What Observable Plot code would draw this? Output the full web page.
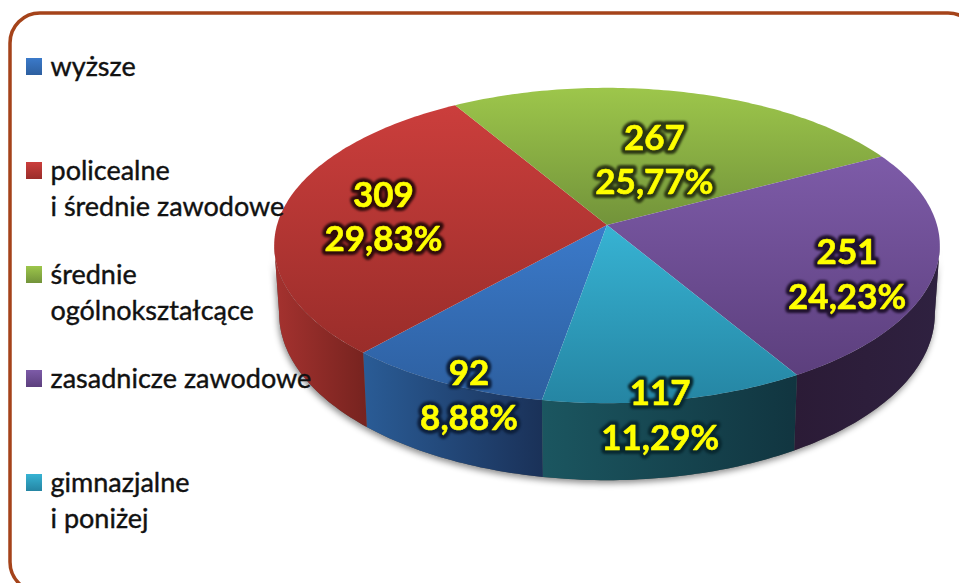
<!DOCTYPE html>
<html lang="pl">
<head>
<meta charset="utf-8">
<script src="https://cdn.jsdelivr.net/npm/d3@7"></script>
<script src="https://cdn.jsdelivr.net/npm/@observablehq/plot@0.6"></script>
<style>
html,body{margin:0;padding:0;background:#fff;overflow:hidden}
svg{display:block}
g[aria-description="sides"]{filter:drop-shadow(-1px 3px 3px rgba(0,0,0,.45))}
g[aria-description="halo"]{filter:blur(.9px)}
.blur{filter:blur(.35px)}
</style>
</head>
<body>
<div id="chart"></div>
<script>
// ---- data ----
const categories = ["wyższe", "policealne\ni średnie zawodowe", "średnie\nogólnokształcące", "zasadnicze zawodowe", "gimnazjalne\ni poniżej"];
const counts = [92, 309, 267, 251, 117];
const percents = [8.88, 29.83, 25.77, 24.23, 11.29];

// ---- styles ----
const topStops = [["#3b7aca", "#2d5f9f"], ["#cb3e3c", "#9a2d2a"], ["#9dc64b", "#72933a"], ["#7d5ba8", "#5c3f7d"], ["#37b3d3", "#2585a3"]];
const sideStops = [["#2a5c96", "#1a3158"], ["#a5322f", "#76231f"], ["#000", "#000"], ["#2b1b36", "#2f2140"], ["#1b5660", "#113540"]];
const haloColors = ["#0c1f3c", "#300c0c", "#2c3814", "#20122e", "#082830"];
const labelRadius = [1.03, 0.686, 0.47, 0.761, 1.066];
const labelTurn = [-5, -1, 3, 8, 3];
const fontFamily = "Lato, Carlito, sans-serif";

// ---- perspective projection of the unit disc ----
const cx = 607, cy = 225, A = 155, B = 330, k = 0.13, T = 67, bottomShrink = 0.985;
const rad = Math.PI / 180;
const startAngle = 9.9, silhouette = 82.5;
function project(phi, r = 1) {
  const X = -Math.sin(phi * rad) * r, Y = Math.cos(phi * rad) * r, w = 1 - k * Y;
  return {x: cx + B * X / w, y: cy + A * Y / w, w};
}
function projectBottom(phi) {
  const p = project(phi);
  return {x: cx + (p.x - cx) * bottomShrink, y: p.y + T / p.w};
}
const total = d3.sum(counts);
let acc = startAngle;
const slices = counts.map((v, i) => {
  const a0 = acc, a1 = acc + v / total * 360;
  acc = a1;
  return {i, a0, a1, mid: (a0 + a1) / 2};
});
const arcAngles = (a, b) => { const n = Math.max(2, Math.ceil(b - a)); return d3.range(n + 1).map(j => a + (b - a) * j / n); };
const fan = s => arcAngles(s.a0, s.a1).map(phi => { const p = project(phi); return {x1: p.x, y1: p.y, x2: cx, y2: cy, i: s.i}; });
function band(s) {
  for (const off of [0, 360]) {
    const a = Math.max(s.a0, off - silhouette), b = Math.min(s.a1, off + silhouette);
    if (b > a) return arcAngles(a, b).map(phi => { const p = project(phi), q = projectBottom(phi); return {x1: p.x, y1: p.y, x2: q.x, y2: q.y, i: s.i}; });
  }
  return null;
}
const labels = slices.map(s => {
  const p = project(s.mid + labelTurn[s.i], labelRadius[s.i]);
  return {x: p.x, y: p.y - 2.5, i: s.i, text: counts[s.i] + "\n" + percents[s.i].toFixed(2).replace(".", ",") + "%"};
});
const legend = categories.map((c, i) => ({c, i, yc: 66.5 + 104 * i}));

const area = (pts, fill, ariaDescription) => Plot.area(pts, {x1: "x1", y1: "y1", x2: "x2", y2: "y2", z: "i", fill, ariaDescription});
const labelStyle = {x: "x", y: "y", text: "text", fontSize: 35, fontWeight: 700, lineHeight: 1.28, fontFamily};

const chart = Plot.plot({
  width: 959, height: 583,
  margin: 0,
  style: {background: "#fff", fontFamily},
  x: {domain: [0, 959], range: [0, 959], axis: null},
  y: {domain: [0, 583], range: [0, 583], axis: null},
  marks: [
    Plot.rect([0], {x1: () => 10, x2: () => 978, y1: () => 13, y2: () => 592, rx: 30, fill: "#fff", stroke: "#a5431a", strokeWidth: 3.5}),
    area(slices.flatMap(s => band(s) || []), "#555", "sides"),
    ...slices.map(s => { const b = band(s); return b ? area(b, `url(#side${s.i})`, "side") : null; }),
    ...slices.map(s => area(fan(s), `url(#top${s.i})`, "slice")),
    Plot.text(labels, {...labelStyle, fill: d => haloColors[d.i], stroke: d => haloColors[d.i], strokeWidth: 8, strokeLinejoin: "round", ariaDescription: "halo"}),
    Plot.text(labels, {...labelStyle, fill: "#ffff00", stroke: "#ffff00", strokeWidth: 0.6}),
    ...legend.map(l => Plot.rect([l], {x1: () => 26, x2: () => 42, y1: d => d.yc - 8.5, y2: d => d.yc + 8.5, fill: `url(#top${l.i})`})),
    Plot.text(legend, {x: () => 50, y: d => d.yc - 17, text: "c", textAnchor: "start", lineAnchor: "top", fontSize: 27, lineHeight: 1.34, fill: "#111", stroke: "#111", strokeWidth: 0.4, fontFamily})
  ].filter(Boolean)
});

// linear gradients referenced by the marks
const defs = d3.select(chart).insert("defs", ":first-child");
const grad = (id, stops, vertical) => {
  const g = defs.append("linearGradient").attr("id", id).attr("x1", 0).attr("y1", 0).attr("x2", vertical ? 0 : 1).attr("y2", vertical ? 1 : 0);
  g.append("stop").attr("offset", 0).attr("stop-color", stops[0]);
  g.append("stop").attr("offset", 1).attr("stop-color", stops[1]);
};
topStops.forEach((s, i) => grad("top" + i, s, true));
sideStops.forEach((s, i) => grad("side" + i, s, false));
chart.classList.add("blur");
document.getElementById("chart").append(chart);
</script>
</body>
</html>
